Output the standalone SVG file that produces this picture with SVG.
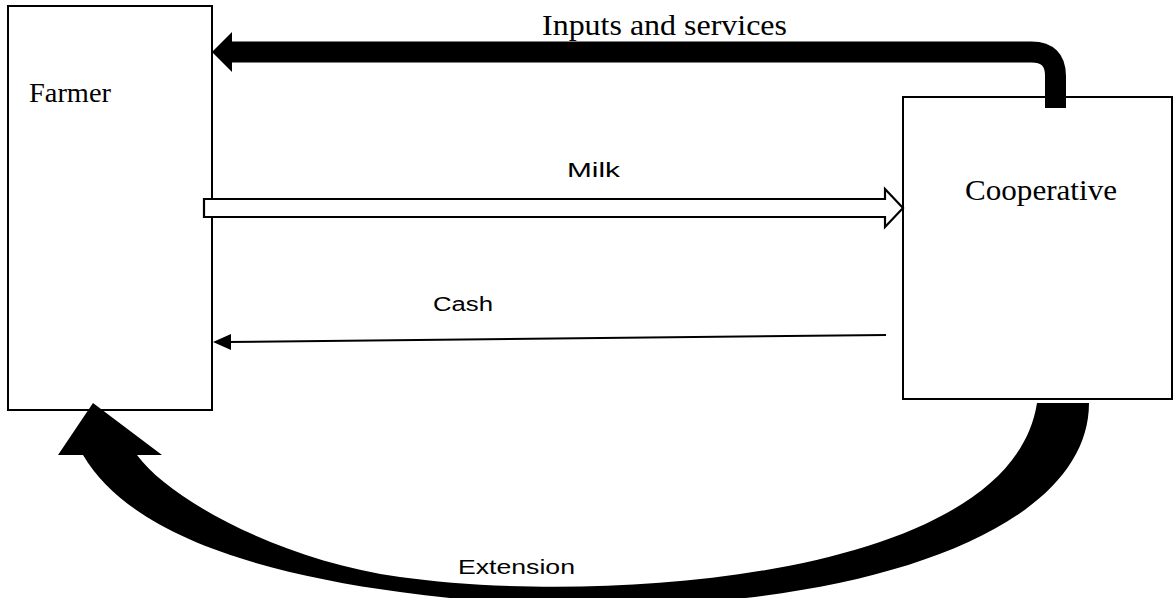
<svg xmlns="http://www.w3.org/2000/svg" width="1174" height="598" viewBox="0 0 1174 598">
<style>
.box{fill:#fff;stroke:#000;stroke-width:2}
.serif{font-family:"Liberation Serif","Times New Roman",serif;fill:#000}
.sans{font-family:"Liberation Sans",Arial,sans-serif;fill:#000;font-size:20px}
</style>
<rect width="1174" height="598" fill="#fff"/>
<g id="farmer">
<rect class="box" x="8" y="6" width="204" height="404"/>
<text class="serif" x="29" y="102" font-size="28" textLength="82" lengthAdjust="spacingAndGlyphs">Farmer</text>
</g>
<g id="cooperative">
<rect class="box" x="903" y="97" width="269" height="302"/>
<text class="serif" x="965" y="200" font-size="29" textLength="152" lengthAdjust="spacingAndGlyphs">Cooperative</text>
</g>
<g id="connectors">
<g id="inputs">
<path d="M1055.5,108 L1055.5,76 Q1055.5,52 1031.5,52 L230,52" fill="none" stroke="#000" stroke-width="21"/>
<polygon points="212,52 232,32 232,72" fill="#000"/>
<text class="serif" x="542" y="35" font-size="30" textLength="245" lengthAdjust="spacingAndGlyphs">Inputs and services</text>
</g>
<g id="milk">
<polygon points="204,199 885,199 885,189 903,208 885,227 885,217 204,217" fill="#fff" stroke="#000" stroke-width="2.2" stroke-linejoin="miter"/>
<text class="sans" x="567" y="177" textLength="53" lengthAdjust="spacingAndGlyphs">Milk</text>
</g>
<g id="cash">
<line x1="886" y1="335" x2="228" y2="342" stroke="#000" stroke-width="2"/>
<polygon points="213,342 231,334 231,350" fill="#000"/>
<text class="sans" x="433" y="311" textLength="60" lengthAdjust="spacingAndGlyphs">Cash</text>
</g>
<g id="extension">
<path d="M1037,403 L1089,403 C1089,560 750,640 400,592 C260,573 130,535 83,455 L58,455 L93,403 L162,455 L137,455 C170,500 280,560 400,577 C600,605 1010,580 1037,403 Z" fill="#000"/>
<text class="sans" x="458" y="574" textLength="117" lengthAdjust="spacingAndGlyphs">Extension</text>
</g>
</g>
</svg>
